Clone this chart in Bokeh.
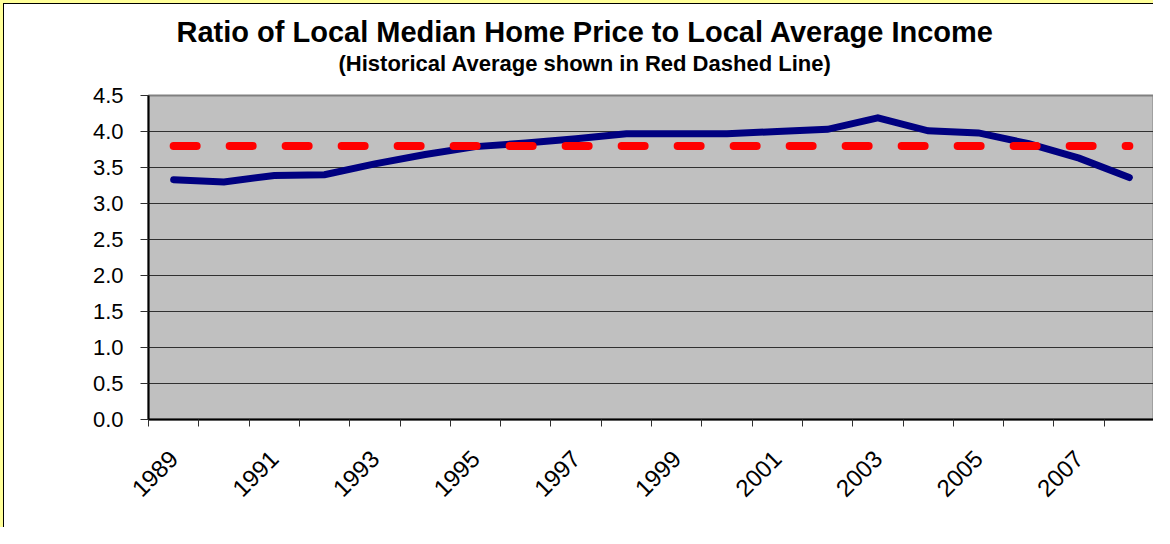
import math
from bokeh.plotting import figure
from bokeh.layouts import column
from bokeh.models import FixedTicker, NumeralTickFormatter, Range1d, Title
from bokeh.embed import file_html
from bokeh.resources import INLINE

# ---- data ----
years = [str(y) for y in range(1989, 2009)]
ratio = [3.33, 3.30, 3.39, 3.40, 3.55, 3.68, 3.79, 3.84, 3.90, 3.97,
         3.97, 3.97, 4.00, 4.03, 4.19, 4.01, 3.98, 3.83, 3.63, 3.36]
historical_avg = 3.80
y_ticks = [0.0, 0.5, 1.0, 1.5, 2.0, 2.5, 3.0, 3.5, 4.0, 4.5]
title_text = "Ratio of Local Median Home Price to Local Average Income"
subtitle_text = "(Historical Average shown in Red Dashed Line)"

FONT = "Liberation Sans"

n = len(years)
x_pos = [i + 0.5 for i in range(n)]

p = figure(width=1150, height=524, output_backend="svg", toolbar_location=None,
           x_range=Range1d(0, n), y_range=Range1d(y_ticks[0], y_ticks[-1]),
           min_border_left=144, min_border_right=0, min_border_top=91, min_border_bottom=109,
           background_fill_color="#C0C0C0", border_fill_color="white",
           outline_line_color="#808080", outline_line_width=2)

p.styles = {"border-top": "1px solid black", "border-left": "1px solid black"}

# x axis
xa = p.xaxis[0]
xa.ticker = FixedTicker(ticks=x_pos[::2], minor_ticks=list(range(n + 1)))
xa.major_label_overrides = {x_pos[i]: years[i] for i in range(n)}
xa.major_tick_out = 0
xa.major_tick_in = 0
xa.minor_tick_out = 7
xa.minor_tick_in = 0
xa.minor_tick_line_color = "#303030"
xa.axis_line_color = "black"
xa.axis_line_width = 2
xa.major_label_orientation = math.pi / 4
xa.major_label_text_font = FONT
xa.major_label_text_font_size = "24px"
xa.major_label_text_color = "black"
xa.major_label_standoff = 28
p.xgrid.visible = False

# y axis
ya = p.yaxis[0]
ya.ticker = FixedTicker(ticks=y_ticks)
ya.formatter = NumeralTickFormatter(format="0.0")
ya.major_tick_out = 8
ya.major_tick_in = 0
ya.minor_tick_out = 0
ya.major_tick_line_color = "#303030"
ya.axis_line_color = "black"
ya.axis_line_width = 2
ya.major_label_text_font = FONT
ya.major_label_text_font_size = "22px"
ya.major_label_text_color = "black"
ya.major_label_standoff = 17
p.ygrid.ticker = FixedTicker(ticks=y_ticks)
p.ygrid.grid_line_color = "#303030"
p.ygrid.grid_line_width = 1

# series
p.line(x_pos, ratio, line_color="#000080", line_width=7, line_cap="round", line_join="miter")
p.line([x_pos[0], x_pos[-1]], [historical_avg, historical_avg], line_color="#FF0000",
       line_width=8, line_dash="23 33", line_cap="round")

# titles (subtitle first: closest to the frame)
p.add_layout(Title(text=subtitle_text, align="left", offset=190, standoff=40,
                   text_font=FONT, text_font_style="bold", text_font_size="22px",
                   text_color="black"), "above")
p.add_layout(Title(text=title_text, align="left", offset=28, standoff=-38,
                   text_font=FONT, text_font_style="bold", text_font_size="29px",
                   text_color="black"), "above")

layout = column(p, styles={"border-top": "3px solid #FFFF99", "border-left": "3px solid #FFFF99"})

open("out.html", "w").write(file_html(layout, INLINE))
